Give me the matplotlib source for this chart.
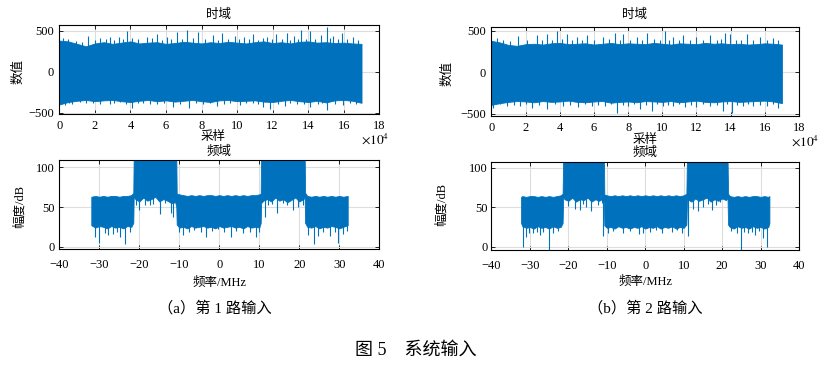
import numpy as np
import matplotlib
matplotlib.use('Agg')
import matplotlib.pyplot as plt

plt.rcParams['font.family'] = ['Liberation Serif', 'Noto Sans CJK SC']
plt.rcParams['mathtext.fontset'] = 'stix'

BLUE = '#0072BD'
W, H = 828, 371

# ---- 时域 (x 单位: 1e4 采样点) ----
t_grid = np.arange(0, 17.01, 0.5)
up1 = [380, 370, 340, 310, 345, 360, 340, 355, 370, 345, 355, 360, 340, 350, 365, 355, 345, 360,
       350, 365, 355, 345, 360, 370, 350, 360, 345, 365, 370, 355, 360, 350, 355, 345, 340]
lo1 = [-400, -370, -355, -345, -360, -350, -345, -360, -370, -355, -345, -360, -350, -365, -355, -345, -360, -370,
       -350, -345, -360, -355, -350, -365, -370, -355, -345, -360, -370, -355, -375, -350, -345, -355, -380]
sp_up1_t = [0.23, 0.5, 0.95, 1.3, 1.63, 2.0, 2.29, 2.6, 2.85, 3.1, 3.38, 3.6, 3.79, 4.07, 4.4, 4.91,
            5.2, 5.48, 5.75, 6.04, 6.3, 6.6, 6.9, 7.17, 7.5, 7.82, 8.2, 8.66, 8.9, 9.13, 9.5, 9.88,
            10.1, 10.4, 10.65, 10.9, 11.2, 11.45, 11.7, 11.95, 12.2, 12.5, 12.8, 13.0, 13.2, 13.4,
            13.6, 13.85, 14.1, 14.4, 14.7, 15.04, 15.2, 15.4, 15.65, 15.9, 16.2, 16.5, 16.8]
sp_up1_v = [411, 395, 380, 360, 440, 390, 411, 400, 419, 385, 427, 405, 500, 411, 395, 427,
            410, 460, 390, 427, 400, 480, 395, 509, 410, 480, 400, 448, 390, 472, 405, 440,
            395, 427, 400, 460, 390, 410, 427, 395, 460, 400, 468, 385, 435, 405,
            509, 395, 500, 400, 448, 541, 410, 440, 395, 472, 400, 419, 385]
sp_dn1_t = [0.32, 0.55, 0.7, 1.16, 1.5, 1.9, 2.3, 2.85, 3.1, 3.4, 3.75, 4.1, 4.45, 4.72, 5.1, 5.48,
            5.9, 6.41, 6.8, 7.29, 7.7, 8.1, 8.45, 8.85, 9.25, 9.6, 10.16, 10.5, 10.9, 11.2, 11.48,
            11.85, 12.3, 12.7, 13.0, 13.35, 13.75, 14.1, 14.57, 14.8, 15.04, 15.5, 15.97, 16.35, 16.7]
sp_dn1_v = [-403, -380, -395, -374, -385, -386, -390, -395, -380, -374, -395, -444, -385, -386, -390, -395,
            -385, -427, -390, -444, -385, -395, -380, -415, -390, -386, -403, -385, -382, -395, -435,
            -456, -390, -415, -385, -395, -390, -435, -395, -385, -468, -390, -403, -385, -395]

up2 = [380, 360, 330, 320, 340, 345, 335, 350, 355, 340, 345, 350, 335, 345, 355, 340, 350, 345,
       340, 355, 345, 335, 350, 345, 340, 355, 345, 350, 340, 345, 335, 340, 350, 345, 335]
lo2 = [-390, -370, -355, -345, -350, -360, -345, -355, -350, -340, -355, -360, -350, -345, -365, -355, -350, -360,
       -345, -350, -355, -345, -360, -350, -340, -355, -360, -350, -345, -355, -350, -345, -340, -350, -370]
sp_up2_t = [0.3, 0.7, 1.1, 1.57, 2.1, 2.65, 2.95, 3.24, 3.55, 3.82, 4.1, 4.4, 4.7, 5.0, 5.3, 5.57,
            6.0, 6.55, 6.9, 7.23, 7.5, 7.72, 8.1, 8.5, 8.8, 9.09, 9.5, 9.85, 10.16, 10.4, 10.65,
            10.95, 11.23, 11.6, 12.0, 12.4, 12.8, 13.2, 13.45, 13.67, 13.96, 14.3, 14.6, 14.94,
            15.3, 15.7, 16.1, 16.5, 16.8]
sp_up2_v = [417, 390, 380, 434, 385, 446, 395, 467, 390, 500, 400, 458, 385, 430, 395, 446,
            390, 425, 400, 479, 385, 467, 395, 430, 390, 475, 400, 385, 496, 390, 425,
            395, 446, 385, 420, 395, 446, 390, 400, 479, 467, 390, 395, 458,
            385, 420, 390, 415, 385]
sp_dn2_t = [0.11, 0.5, 0.89, 1.3, 1.67, 2.0, 2.35, 2.8, 3.24, 3.7, 4.2, 4.6, 5.08, 5.5, 5.86, 6.25,
            6.65, 7.0, 7.33, 7.7, 8.0, 8.35, 8.7, 9.05, 9.38, 9.7, 10.06, 10.35, 10.65, 11.0, 11.33,
            11.65, 12.0, 12.4, 12.8, 13.2, 13.58, 13.8, 14.06, 14.4, 14.75, 15.0, 15.3, 15.7,
            16.1, 16.45, 16.77]
sp_dn2_v = [-434, -385, -409, -390, -400, -385, -434, -390, -442, -385, -405, -390, -421, -385, -409, -390,
            -400, -385, -483, -390, -410, -385, -442, -390, -462, -385, -405, -390, -409, -385, -420,
            -390, -421, -385, -405, -390, -462, -385, -483, -390, -410, -385, -409, -390,
            -405, -385, -434]

# ---- 频域 (MHz, dB) ----
f1_x = [-32.0, -31, -30, -29, -28, -27, -26, -25, -24, -23, -22, -21.5,
        -21.4, -21, -20, -19, -18, -17, -16, -15, -14, -13, -12, -11, -10.75,
        -10.65, -10, -9, -8, -7, -6, -5, -4, -3, -2, -1, 0, 1, 2, 3, 4, 5, 6, 7, 8, 9, 10, 10.35,
        10.45, 11, 12, 13, 14, 15, 16, 17, 18, 19, 20, 21, 21.35,
        21.45, 22, 23, 24, 25, 26, 27, 28, 29, 30, 31, 32.1]
f1_hi = [63, 64, 63, 64, 63, 64, 64, 63, 64, 64, 65, 68,
         115, 115, 115, 115, 115, 115, 115, 115, 115, 115, 115, 115, 115,
         67, 66, 65, 64, 65, 64, 65, 64, 65, 65, 64, 65, 64, 65, 64, 65, 64, 65, 64, 65, 65, 66, 67,
         115, 115, 115, 115, 115, 115, 115, 115, 115, 115, 115, 115, 115,
         68, 64, 63, 64, 63, 64, 63, 64, 63, 64, 63, 64]
f1_lo = [27, 24, 26, 25, 23, 26, 24, 25, 23, 26, 25, 30,
         64, 60, 57, 62, 58, 60, 63, 57, 60, 58, 55, 56, 50,
         28, 24, 25, 23, 26, 24, 25, 26, 24, 25, 23, 26, 24, 25, 26, 24, 25, 23, 26, 24, 25, 24, 30,
         55, 58, 60, 57, 62, 58, 60, 56, 59, 62, 57, 60, 62,
         30, 25, 24, 26, 23, 25, 24, 26, 25, 23, 25, 27]
dip1_x = [-31.1, -30.0, -28.6, -27.9, -26.5, -25.6, -24.8, -23.6, -22.4,
          -20.9, -20.1, -18.7, -17.4, -16.6, -14.9, -13.6, -12.1, -11.6,
          -10.0, -9.0, -7.5, -6.3, -4.6, -3.4, -1.7, -0.2, 1.3, 2.9, 4.3, 6.0, 7.7, 9.1, 9.9,
          11.3, 12.2, 13.1, 14.5, 16.0, 16.8, 18.3, 19.6, 20.8,
          22.2, 23.6, 24.7, 26.0, 27.6, 28.8, 29.7, 30.9, 31.8]
dip1_v = [12, 4, 17, 15, 16, 19, 12, 3, 18,
          52, 46, 52, 53, 54, 41, 55, 42, 38,
          18, 15, 19, 21, 18, 12, 20, 22, 19, 12, 20, 17, 18, 12, 19,
          38, 53, 54, 42, 55, 52, 46, 50, 52,
          15, 3, 14, 19, 14, 18, 4, 16, 20]

f2_x = [-32.3, -32, -31, -30, -29, -28, -27, -26, -25, -24, -23, -22, -21.5,
        -21.35, -21, -20, -19, -18, -17, -16, -15, -14, -13, -12, -11, -10.75,
        -10.65, -10, -9, -8, -7, -6, -5, -4, -3, -2, -1, 0, 1, 2, 3, 4, 5, 6, 7, 8, 9, 10, 10.7,
        10.85, 11, 12, 13, 14, 15, 16, 17, 18, 19, 20, 21, 21.4,
        21.55, 22, 23, 24, 25, 26, 27, 28, 29, 30, 31, 32, 32.3]
f2_hi = [63, 64, 63, 64, 64, 63, 64, 63, 64, 63, 64, 65, 67,
         115, 115, 115, 115, 115, 115, 115, 115, 115, 115, 115, 115, 115,
         66, 65, 64, 65, 64, 65, 64, 65, 64, 65, 64, 65, 64, 65, 64, 65, 64, 65, 64, 65, 64, 65, 67,
         115, 115, 115, 115, 115, 115, 115, 115, 115, 115, 115, 115, 115,
         67, 64, 63, 64, 63, 64, 63, 64, 64, 63, 64, 63, 64]
f2_lo = [30, 26, 24, 25, 23, 26, 24, 25, 23, 26, 24, 25, 30,
         63, 60, 58, 62, 57, 60, 59, 62, 57, 60, 58, 61, 55,
         27, 24, 25, 23, 26, 24, 25, 23, 25, 24, 26, 23, 25, 24, 26, 23, 25, 24, 26, 23, 25, 24, 28,
         58, 60, 57, 61, 58, 60, 62, 57, 60, 58, 61, 59, 62,
         28, 25, 23, 26, 24, 25, 23, 26, 24, 25, 23, 25, 30]
dip2_x = [-31.85, -31.0, -30.2, -29.1, -28.2, -27.4, -26.5, -25.0, -24.0, -22.8,
          -20.1, -18.4, -17.1, -16.2, -15.4, -14.1, -12.4, -11.3,
          -10.9, -9.6, -8.4, -5.8, -4.0, -1.5, -0.5, 1.2, 2.8, 4.3, 6.9, 8.2, 9.5,
          11.0, 12.5, 13.8, 15.1, 16.2, 17.3, 18.5, 19.4,
          22.4, 23.8, 24.8, 25.8, 26.8, 27.7, 28.6, 29.6, 30.7, 31.7]
dip2_v = [0, 12, 18, 17, 19, 15, 19, -5, 17, 20,
          52, 48, 47, 54, 50, 45, 53, 55,
          14, 18, 20, 18, 20, 16, 17, 19, 21, 17, 19, 21, 18,
          14, 48, 45, 50, 54, 47, 53, 56,
          20, 17, -5, 19, 17, 19, 15, 20, 11, 0]


def px_axes(x0, y0, x1, y1):
    return fig.add_axes([x0 / W, 1 - y1 / H, (x1 - x0) / W, (y1 - y0) / H])


def ftext(x, y, s, **kw):
    kw.setdefault('ha', 'center')
    kw.setdefault('va', 'center')
    fig.text(x / W, 1 - y / H, s, **kw)


def style(ax, xpad, ypad):
    ax.set_axisbelow(True)
    ax.grid(True, color='#dddddd', lw=0.8)
    ax.tick_params(direction='in', top=True, right=True, length=3, width=0.6, labelsize=9)
    ax.tick_params(axis='x', pad=xpad)
    ax.tick_params(axis='y', pad=ypad)
    for s in ax.spines.values():
        s.set_linewidth(0.8)


def time_plot(ax, up, lo, ut, uv, dt, dv, ylim):
    tg = t_grid * 1e4
    ax.fill_between(tg, lo, up, color=BLUE, lw=0.6)
    ax.vlines(np.array(ut) * 1e4, 0, uv, color=BLUE, lw=0.8)
    ax.vlines(np.array(dt) * 1e4, dv, 0, color=BLUE, lw=0.8)
    ax.set_xlim(0, 18e4)
    ax.set_ylim(*ylim)
    ax.set_xticks(np.arange(0, 19, 2) * 1e4, [str(v) for v in range(0, 19, 2)])
    ax.set_yticks([-500, 0, 500])
    style(ax, 4, 4)


def freq_plot(ax, fx, hi, lo, dx, dv, ylim):
    ax.fill_between(fx, lo, hi, color=BLUE, lw=0.6)
    top = np.interp(dx, fx, lo) + 3
    ax.vlines(dx, dv, top, color=BLUE, lw=0.8)
    ax.set_xlim(-40, 40)
    ax.set_ylim(*ylim)
    ax.set_xticks(range(-40, 41, 10))
    ax.set_yticks([0, 50, 100])
    style(ax, 7.5, 3)


fig = plt.figure(figsize=(W / 100, H / 100), dpi=100)

ax1 = px_axes(59.3, 25, 379.3, 114.3)
ax2 = px_axes(59.3, 160.3, 379.3, 249)
ax3 = px_axes(491.5, 26.7, 799, 116)
ax4 = px_axes(491.5, 162, 799, 250)

time_plot(ax1, up1, lo1, sp_up1_t, sp_up1_v, sp_dn1_t, sp_dn1_v, (-520, 570))
time_plot(ax3, up2, lo2, sp_up2_t, sp_up2_v, sp_dn2_t, sp_dn2_v, (-525, 550))
freq_plot(ax2, f1_x, f1_hi, f1_lo, dip1_x, dip1_v, (-3, 109))
freq_plot(ax4, f2_x, f2_hi, f2_lo, dip2_x, dip2_v, (-4, 107))

fs = 9
# 左列
ftext(219, 15, '时域', fontsize=fs)
ftext(18, 72, '数值', fontsize=fs, rotation=90)
ftext(213, 137, '采样', fontsize=fs)
ftext(389, 139, r'$\times10^{4}$', fontsize=9.5, ha='right')
ftext(219, 152, '频域', fontsize=fs)
ftext(20, 206, '幅度/dB', fontsize=fs, rotation=90)
ftext(220, 283, '频率/MHz', fontsize=fs)
# 右列
ftext(635, 15, '时域', fontsize=fs)
ftext(447, 74, '数值', fontsize=fs, rotation=90)
ftext(645, 140, '采样', fontsize=fs)
ftext(819, 141, r'$\times10^{4}$', fontsize=9.5, ha='right')
ftext(645, 153, '频域', fontsize=fs)
ftext(442, 204, '幅度/dB', fontsize=fs, rotation=90)
ftext(646, 282, '频率/MHz', fontsize=fs)

ftext(215, 308, '（a）第 1 路输入', fontsize=11)
ftext(645, 308, '（b）第 2 路输入', fontsize=11)
ftext(416, 350, '图 5　系统输入', fontsize=13)

fig.savefig('out.png', dpi=100)
